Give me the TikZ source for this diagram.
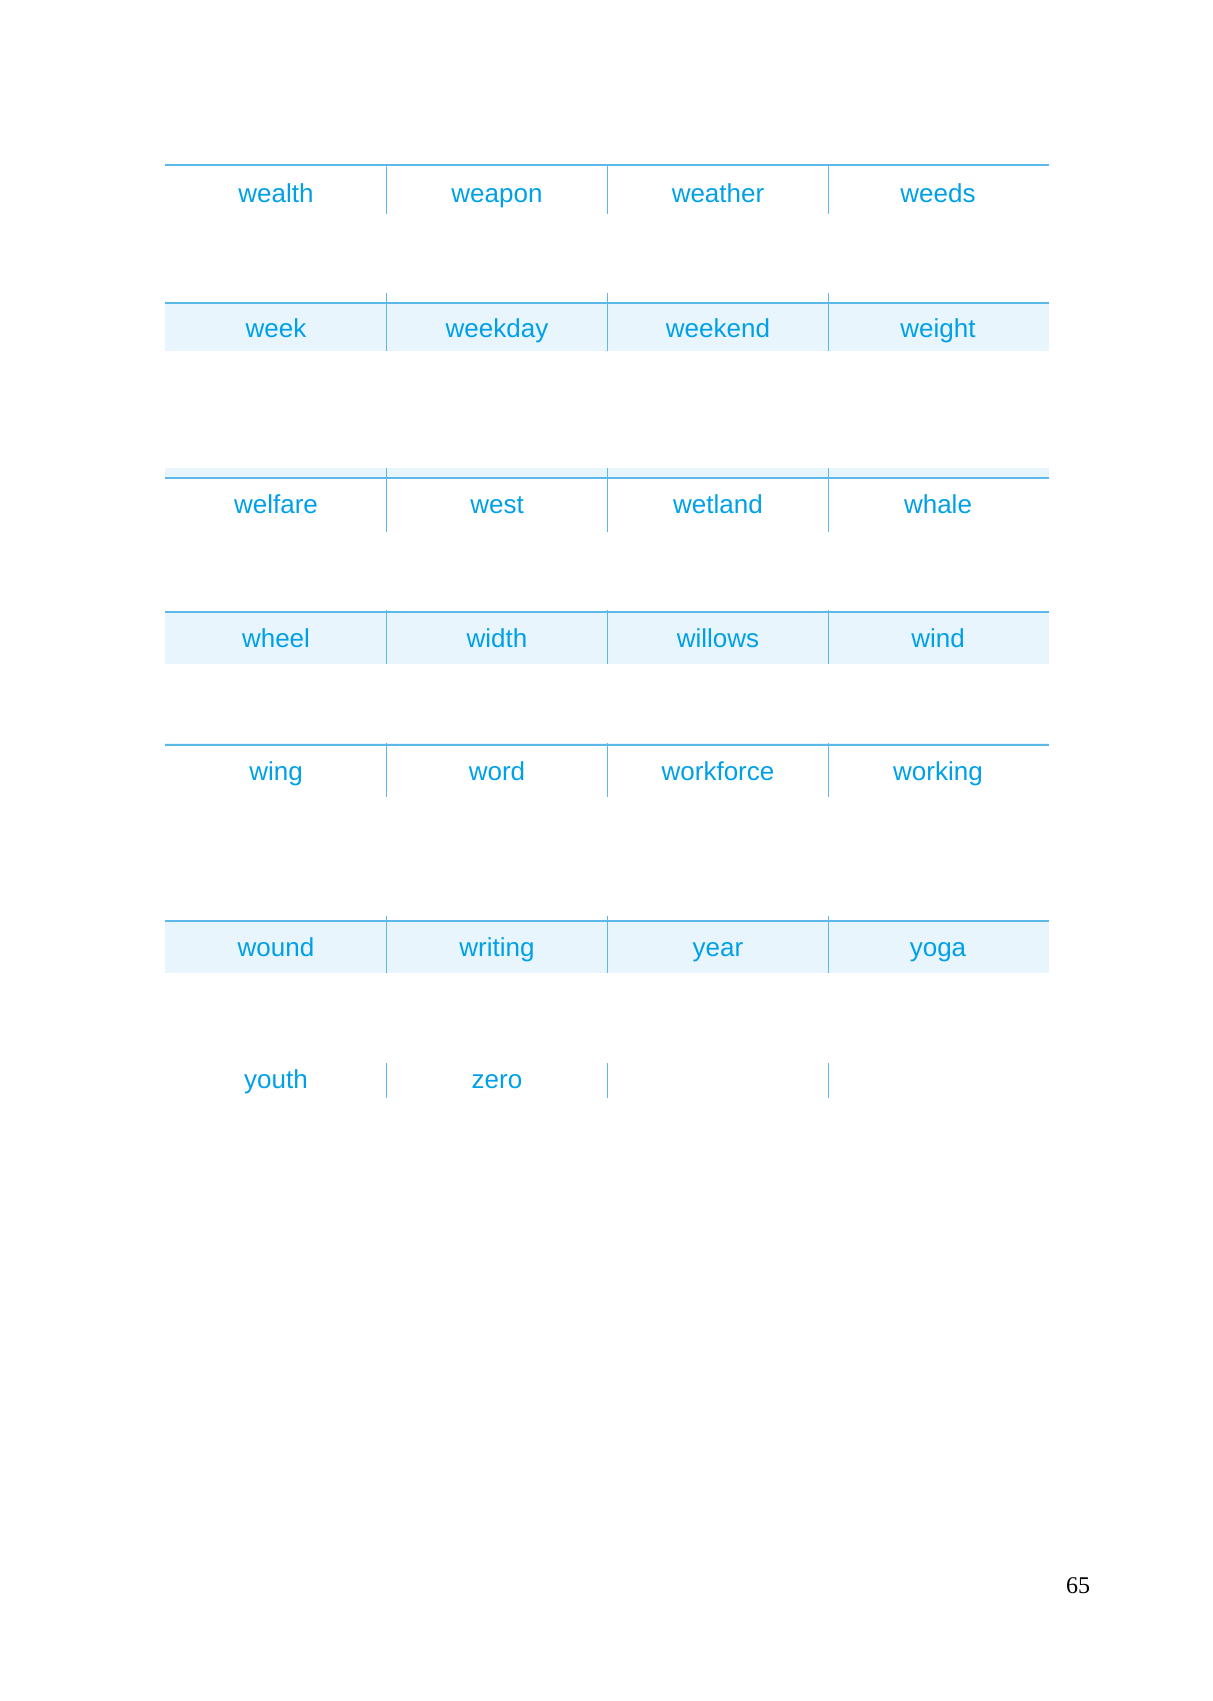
\documentclass[tikz,border=0pt]{standalone}
\usepackage{fontspec}
\setmainfont{Liberation Sans}
\newfontfamily\pagefont{Liberation Serif}
\definecolor{wordblue}{HTML}{00A0E9}
\definecolor{ruleblue}{HTML}{5BB8E8}
\definecolor{bandfill}{HTML}{E8F5FC}
\begin{document}
\begin{tikzpicture}[x=0.5pt,y=-0.5pt,
  word/.style={anchor=base,inner sep=0pt,text=wordblue,font=\fontsize{13}{15}\selectfont},
  rulel/.style={draw=ruleblue,line width=0.55pt},
  band/.style={fill=bandfill,draw=none}]
\useasboundingbox (0,0) rectangle (1213,1701);
% bands
\fill[band] (165,303) rectangle (1049,351);
\fill[band] (165,468) rectangle (1049,478);
\fill[band] (165,612) rectangle (1049,664);
\fill[band] (165,743) rectangle (1049,745);
\fill[band] (165,921) rectangle (1049,973);
% horizontal rules
\foreach \y in {165,303,478,612,745,921} \draw[rulel] (165,\y) -- (1049,\y);
% vertical dividers
\foreach \a/\b in {165/214,293/351,468/532,610/664,743/797,916/973,1063/1098}
  \foreach \x in {386.5,607.5,828.5} \draw[rulel] (\x,\a) -- (\x,\b);
% words
\node[word] (w11) at (276,203) {wealth};
\node[word] (w12) at (497,203) {weapon};
\node[word] (w13) at (718,203) {weather};
\node[word] (w14) at (938,203) {weeds};
\node[word] (w21) at (276,338) {week};
\node[word] (w22) at (497,338) {weekday};
\node[word] (w23) at (718,338) {weekend};
\node[word] (w24) at (938,338) {weight};
\node[word] (w31) at (276,513) {welfare};
\node[word] (w32) at (497,513) {west};
\node[word] (w33) at (718,513) {wetland};
\node[word] (w34) at (938,513) {whale};
\node[word] (w41) at (276,647) {wheel};
\node[word] (w42) at (497,647) {width};
\node[word] (w43) at (718,647) {willows};
\node[word] (w44) at (938,647) {wind};
\node[word] (w51) at (276,780) {wing};
\node[word] (w52) at (497,780) {word};
\node[word] (w53) at (718,780) {workforce};
\node[word] (w54) at (938,780) {working};
\node[word] (w61) at (276,956) {wound};
\node[word] (w62) at (497,956) {writing};
\node[word] (w63) at (718,956) {year};
\node[word] (w64) at (938,956) {yoga};
\node[word] (w71) at (276,1088) {youth};
\node[word] (w72) at (497,1088) {zero};
% page number
\node[anchor=base,inner sep=0pt,font=\pagefont\fontsize{12}{14}\selectfont] (pg) at (1078,1593) {65};
\end{tikzpicture}
\end{document}
